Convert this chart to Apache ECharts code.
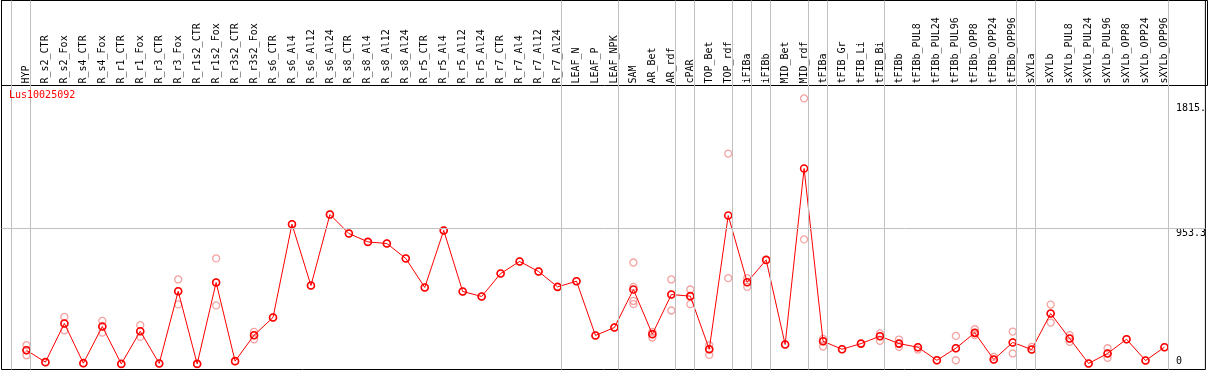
<!DOCTYPE html>
<html>
<head>
<meta charset="utf-8">
<script src="https://cdn.jsdelivr.net/npm/echarts/dist/echarts.min.js"></script>
<style>
html,body{margin:0;padding:0;background:#fff;}
#chart{width:1209px;height:370px;}
</style>
</head>
<body>
<div id="chart"></div>
<script>
const geneName = 'Lus10025092';
const categories = [
  'HYP','R_s2_CTR','R_s2_Fox','R_s4_CTR','R_s4_Fox','R_r1_CTR','R_r1_Fox','R_r3_CTR','R_r3_Fox',
  'R_r1s2_CTR','R_r1s2_Fox','R_r3s2_CTR','R_r3s2_Fox','R_s6_CTR','R_s6_Al4','R_s6_Al12','R_s6_Al24',
  'R_s8_CTR','R_s8_Al4','R_s8_Al12','R_s8_Al24','R_r5_CTR','R_r5_Al4','R_r5_Al12','R_r5_Al24',
  'R_r7_CTR','R_r7_Al4','R_r7_Al12','R_r7_Al24','LEAF_N','LEAF_P','LEAF_NPK','SAM','AR_Bet','AR_rdf',
  'cPAR','TOP_Bet','TOP_rdf','iFIBa','iFIBb','MID_Bet','MID_rdf','tFIBa','tFIB_Gr','tFIB_Li','tFIB_Bi',
  'tFIBb','tFIBb_PUL8','tFIBb_PUL24','tFIBb_PUL96','tFIBb_OPP8','tFIBb_OPP24','tFIBb_OPP96',
  'sXYLa','sXYLb','sXYLb_PUL8','sXYLb_PUL24','sXYLb_PUL96','sXYLb_OPP8','sXYLb_OPP24','sXYLb_OPP96'
];
const meanValues = [
  114, 32, 299, 25, 278, 20, 245, 23, 521,
  20, 581, 39, 218, 340, 983, 560, 1050,
  919, 861, 850, 747, 547, 940, 519, 485,
  643, 726, 657, 551, 590, 216, 271, 533, 225, 498,
  487, 121, 1043, 583, 737, 154, 1367, 176, 121, 160, 211,
  160, 135, 45, 128, 234, 50, 168,
  119, 367, 195, 23, 92, 190, 43, 135
];
const replicateValues = [
  [149,114,80],[32],[344,299,252],[25],[316,278,236],[20],[287,245,206],[23],[602,521,430],
  [20],[747,581,423],[39],[241,218,190],[340],[983],[560],[1050],
  [919],[861],[850],[747],[547],[940],[519],[485],
  [643],[726],[657],[551],[590],[216],[271],[719,551,454,432],[241,225,202],[602,498,388],
  [533,487,432],[149,121,82],[1470,611],[611,583,551],[737],[154],[1850,878],[192,176,140],[121],[160],[230,211,179],
  [188,160,137],[135,119],[45],[213,128,45],[259,234,218],[50,68],[243,168,92],
  [137,119],[429,367,305],[218,195,172],[23],[128,92,62],[190],[43],[135]
];
const groupEnds = [-1, 0, 28, 31, 34, 35, 37, 38, 39, 41, 42, 45, 52, 53, 60];
const yTickValues = [0, 953.3, 1815];
const yTickLabels = ['0', '953.3', '1815.'];

const FONT = 'DejaVu Sans Mono';
const X_MIN = -25 / 19, X_MAX = 1181 / 19;
const PX_PER_UNIT = 0.14506;
const Y_MAX = 366.3 / PX_PER_UNIT, Y_MIN = -2.7 / PX_PER_UNIT;

const lineData = meanValues.map((v, i) => [i, v]);
const repData = [];
replicateValues.forEach((arr, i) => arr.forEach(v => repData.push([i, v])));
const labelFor = v => yTickLabels[yTickValues.indexOf(v)];

const chart = echarts.init(document.getElementById('chart'), null, {renderer: 'canvas'});
chart.setOption({
  animation: false,
  backgroundColor: '#fff',
  title: {
    text: geneName, left: 9, top: 90, padding: 0,
    textStyle: {color: '#ff0000', fontFamily: FONT, fontSize: 10, fontWeight: 'normal'}
  },
  grid: [
    {left: 1.5, top: 0.5, width: 1206, height: 369, show: true, borderColor: '#000', borderWidth: 1, backgroundColor: 'transparent', containLabel: false},
    {left: 1.5, top: 0.5, width: 1206, height: 85, show: true, borderColor: '#000', borderWidth: 1, backgroundColor: 'transparent', containLabel: false}
  ],
  xAxis: [
    {
      type: 'value', gridIndex: 0, position: 'top', offset: -85, min: X_MIN, max: X_MAX,
      axisLine: {show: false},
      axisTick: {show: false}, splitLine: {show: false},
      axisLabel: {
        customValues: categories.map((_, i) => i),
        formatter: v => categories[Math.round(v)],
        rotate: 90, margin: 2, fontFamily: FONT, fontSize: 10, color: '#000'
      }
    },
    {type: 'value', gridIndex: 1, show: false, min: 0, max: 1}
  ],
  yAxis: [
    {
      type: 'value', gridIndex: 0, min: Y_MIN, max: Y_MAX, position: 'right', offset: -29.5,
      axisLine: {show: false}, axisTick: {show: false}, splitLine: {show: false},
      axisLabel: {customValues: [yTickValues[1], yTickValues[2]], formatter: labelFor, margin: 0, verticalAlign: 'top', fontFamily: FONT, fontSize: 10, color: '#000'}
    },
    {
      type: 'value', gridIndex: 0, min: Y_MIN, max: Y_MAX, position: 'right', offset: -29.5,
      axisLine: {show: false}, axisTick: {show: false}, splitLine: {show: false},
      axisLabel: {customValues: [yTickValues[0]], formatter: labelFor, margin: 0, verticalAlign: 'bottom', fontFamily: FONT, fontSize: 10, color: '#000'}
    },
    {type: 'value', gridIndex: 1, show: false, min: 0, max: 1}
  ],
  series: [
    {
      type: 'scatter', data: repData, z: 2, silent: true,
      xAxisIndex: 0, yAxisIndex: 0,
      symbol: 'circle', symbolSize: 7,
      itemStyle: {color: 'rgba(0,0,0,0)', borderColor: '#f08c8c', borderWidth: 1.3},
      emphasis: {disabled: true},
      markLine: {
        silent: true, symbol: 'none', animation: false,
        label: {show: false},
        lineStyle: {color: '#c0c0c0', width: 1, type: 'solid'},
        emphasis: {disabled: true},
        data: groupEnds.map(i => ({xAxis: i + 4 / 19})).concat([{yAxis: yTickValues[1]}])
      }
    },
    {
      type: 'line', data: lineData, z: 3, silent: true,
      xAxisIndex: 0, yAxisIndex: 0,
      symbol: 'circle', symbolSize: 7, showAllSymbol: true,
      lineStyle: {color: '#ff0000', width: 1},
      itemStyle: {color: 'rgba(0,0,0,0)', borderColor: '#ff0000', borderWidth: 1.6},
      emphasis: {disabled: true}
    }
  ]
});
</script>
</body>
</html>
